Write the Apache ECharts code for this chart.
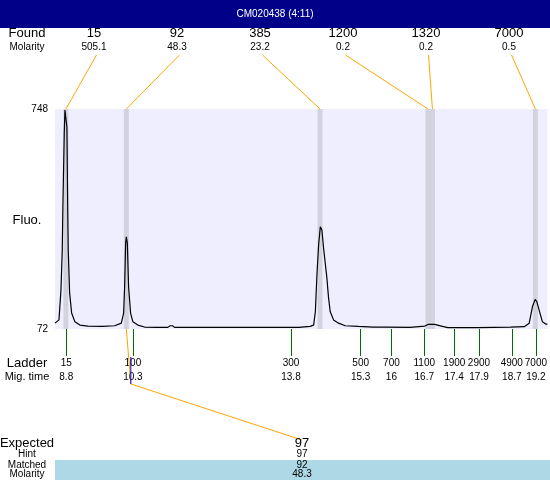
<!DOCTYPE html>
<html><head><meta charset="utf-8">
<script src="https://cdn.jsdelivr.net/npm/echarts/dist/echarts.min.js"></script>
<style>html,body{margin:0;padding:0;background:#fff}#c{width:550px;height:480px}</style>
</head><body><div id="c"></div>
<script>
const sampleTitle = 'CM020438 (4:11)';
const traceTime = [8.551, 8.639, 8.683, 8.712, 8.727, 8.756, 8.771, 8.793, 8.815, 8.831, 8.844, 8.875, 8.919, 8.992, 9.102, 9.278, 9.60, 9.873, 10.020, 10.071, 10.093, 10.115, 10.131, 10.153, 10.181, 10.225, 10.276, 10.386, 10.534, 10.80, 11.05, 11.10, 11.15, 11.20, 11.746, 12.847, 13.949, 14.20, 14.279, 14.317, 14.352, 14.389, 14.427, 14.462, 14.499, 14.572, 14.610, 14.647, 14.720, 14.830, 14.978, 15.271, 15.6, 15.888, 16.41, 16.740, 16.813, 16.960, 17.106, 17.253, 17.914, 18.641, 18.943, 19.053, 19.126, 19.185, 19.221, 19.273, 19.346, 19.419, 19.456];
const traceFluo = [90, 100, 192, 315, 459, 674, 745, 748, 692, 459, 315, 183, 121, 94, 84, 81, 80, 82, 90, 121, 201, 336, 355, 336, 201, 121, 94, 84, 78, 77, 77, 82, 82, 77, 77, 77, 77, 80, 84, 125, 238, 330, 386, 376, 321, 229, 167, 125, 100, 90, 82, 80, 78, 78, 77, 81, 86, 86, 81, 76, 76, 78, 79, 90, 141, 163, 156, 130, 94, 87, 87];

const foundSizes = ['15', '92', '385', '1200', '1320', '7000'];
const foundMolarity = ['505.1', '48.3', '23.2', '0.2', '0.2', '0.5'];
const foundTimes = [8.793, 10.131, 14.42, 16.81, 16.91, 19.19];

const ladderSizes = ['15', '100', '300', '500', '700', '1100', '1900', '2900', '4900', '7000'];
const ladderTimes = [8.800, 10.276, 13.777, 15.321, 16.002, 16.729, 17.392, 17.941, 18.668, 19.201];
const ladderTimeLabels = ['8.8', '10.3', '13.8', '15.3', '16', '16.7', '17.4', '17.9', '18.7', '19.2'];

const yTicks = [72, 748];
const xRange = [8.551, 19.456];

const expectedSizes = ['97'];
const hintSizes = ['97'];
const matchedSizes = ['92'];
const matchedMolarity = ['48.3'];
const matchedPeakIndex = [1];

const FONT = '"Liberation Sans", Arial, sans-serif';
const chart = echarts.init(document.getElementById('c'), null, {renderer: 'canvas'});

const bandHalf = 0.055;
const option = {
  animation: false,
  backgroundColor: '#ffffff',
  grid: {left: 55, top: 109, width: 495, height: 220, show: true, backgroundColor: '#EEEEFF', borderWidth: 0},
  xAxis: {
    type: 'value', min: xRange[0], max: xRange[1],
    axisLine: {show: false},
    splitLine: {show: false},
    axisTick: {show: true, customValues: ladderTimes, length: 27, lineStyle: {color: '#006E00', width: 1}},
    axisLabel: {
      show: true, customValues: ladderTimes, margin: 27,
      formatter: function (v) {
        let best = 0;
        for (let i = 0; i < ladderTimes.length; i++) if (Math.abs(ladderTimes[i] - v) < Math.abs(ladderTimes[best] - v)) best = i;
        return '{a|' + ladderSizes[best] + '}\n{b|' + ladderTimeLabels[best] + '}';
      },
      rich: {
        a: {fontSize: 10, lineHeight: 14, color: '#000', fontFamily: FONT},
        b: {fontSize: 10, lineHeight: 14, color: '#000', fontFamily: FONT}
      }
    }
  },
  yAxis: {
    type: 'value', min: yTicks[0], max: yTicks[yTicks.length - 1],
    axisLine: {show: false}, axisTick: {show: false}, splitLine: {show: false},
    axisLabel: {customValues: yTicks, fontSize: 10, color: '#000', fontFamily: FONT, margin: 7}
  },
  series: [{
    type: 'line',
    data: traceTime.map((t, i) => [t, traceFluo[i]]),
    showSymbol: false, smooth: false,
    lineStyle: {color: '#000', width: 1.2},
    markArea: {
      silent: true,
      itemStyle: {color: '#D3D3E0'},
      data: foundTimes.map(t => [{xAxis: t - bandHalf}, {xAxis: t + bandHalf}])
    },
    z: 3
  }]
};
chart.setOption(option);

function px(t, v) { return chart.convertToPixel({gridIndex: 0}, [t, v]); }
const yTop = px(xRange[0], yTicks[1])[1];
const yBot = px(xRange[0], yTicks[0])[1];

const g = [];
function txt(s, x, y, size, color, align) {
  g.push({type: 'text', x: x, y: y, silent: true, z: 10,
    style: {text: s, fill: color || '#000', font: size + 'px ' + FONT, textAlign: align || 'center', textVerticalAlign: 'middle'}});
}
function line(x1, y1, x2, y2, color) {
  g.push({type: 'line', silent: true, z: 9, shape: {x1: x1, y1: y1, x2: x2, y2: y2}, style: {stroke: color, lineWidth: 1}});
}
// title bar
g.push({type: 'rect', shape: {x: 0, y: 0, width: 550, height: 28}, style: {fill: '#000088'}, silent: true, z: 5});
txt(sampleTitle, 275, 14, 10, '#fff');
// found header
txt('Found', 27, 33, 13);
txt('Molarity', 27, 47, 10);
const colX0 = 94, colStep = 83;
foundSizes.forEach((s, i) => {
  const cx = colX0 + colStep * i;
  txt(s, cx, 33, 13);
  txt(foundMolarity[i], cx, 47, 10);
  const p = px(foundTimes[i], yTicks[1]);
  line(cx + 2.5, 55, p[0], yTop, '#FFA500');
});
// axis titles
txt('Fluo.', 27, 220, 13);
txt('Ladder', 27, 363, 13);
txt('Mig. time', 27, 377, 11);
// bottom table
g.push({type: 'rect', shape: {x: 55, y: 460, width: 495, height: 20}, style: {fill: '#ADD8E6'}, silent: true, z: 5});
txt('Expected', 27, 443, 13);
txt('Hint', 27, 454, 10);
txt('Matched', 27, 465, 10);
txt('Molarity', 27, 474, 10);
const expX = 302;
expectedSizes.forEach((s, i) => {
  txt(s, expX, 443, 13);
  txt(hintSizes[i], expX, 454, 10);
  txt(matchedSizes[i], expX, 465, 10);
  txt(matchedMolarity[i], expX, 474, 10);
  const pk = px(foundTimes[matchedPeakIndex[i]], yTicks[0]);
  const bx = pk[0] + 4.5;
  line(pk[0], yBot, bx, 384, '#FFA500');
  line(bx, 384, expX, 440, '#FFA500');
  line(bx, 357, bx, 384, '#0000CC');
});
chart.setOption({graphic: g});
</script></body></html>
